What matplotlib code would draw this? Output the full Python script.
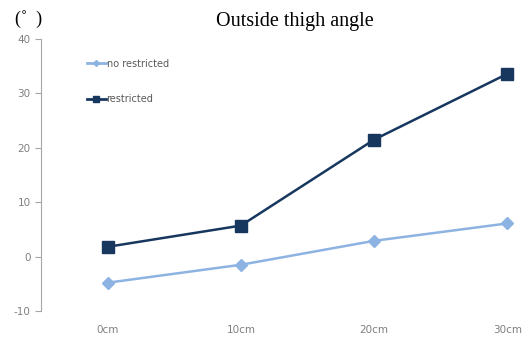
import matplotlib.pyplot as plt
from matplotlib.lines import Line2D

plt.rcParams['axes.unicode_minus'] = False

# Data
categories = ['0cm', '10cm', '20cm', '30cm']
no_restricted = [-4.8, -1.5, 2.9, 6.1]
restricted = [1.8, 5.7, 21.5, 33.6]

light_blue = '#8DB3E2'
navy = '#17375E'

def plot_thigh_angle():
    fig = plt.figure(figsize=(5.22, 3.37), dpi=100)
    ax = fig.add_axes([41 / 522, 26 / 337, 533 / 522, 272 / 337])

    x = range(len(categories))
    ax.plot(x, no_restricted, color=light_blue, lw=1.8, marker='D', ms=6,
            label='no restricted')
    ax.plot(x, restricted, color=navy, lw=1.8, marker='s', ms=8,
            label='restricted')

    ax.set_xlim(-0.5, 3.5)
    ax.set_ylim(-10, 40)
    ax.set_yticks([-10, 0, 10, 20, 30, 40])
    ax.set_xticks(list(x))
    ax.set_xticklabels(categories)

    for s in ['top', 'right', 'bottom']:
        ax.spines[s].set_visible(False)
    ax.spines['left'].set_color('#A6A6A6')
    ax.tick_params(axis='y', colors='#A6A6A6', labelcolor='#7F7F7F',
                   labelsize=7.5, length=4, direction='out')
    ax.tick_params(axis='x', length=0, labelcolor='#7F7F7F', labelsize=7.5, pad=10)

    # legend with smaller markers, as in the original
    handles = [Line2D([], [], color=light_blue, lw=2, marker='D', ms=3),
               Line2D([], [], color=navy, lw=2, marker='s', ms=4)]
    ax.legend(handles, ['no restricted', 'restricted'], loc='upper left',
              bbox_to_anchor=(0.07, 0.96), frameon=False, fontsize=7,
              labelspacing=2.6, handlelength=1.9, handletextpad=0.1,
              labelcolor='#595959')

    fig.text(0.565, 0.935, 'Outside thigh angle', family='Liberation Serif',
             fontsize=14.5, ha='center', va='center')
    fig.text(0.055, 0.945, '(\u02da  )', family='Liberation Serif', fontsize=13,
             ha='center', va='center')

    fig.savefig('out.png', dpi=100)

if __name__ == "__main__":
    plot_thigh_angle()
